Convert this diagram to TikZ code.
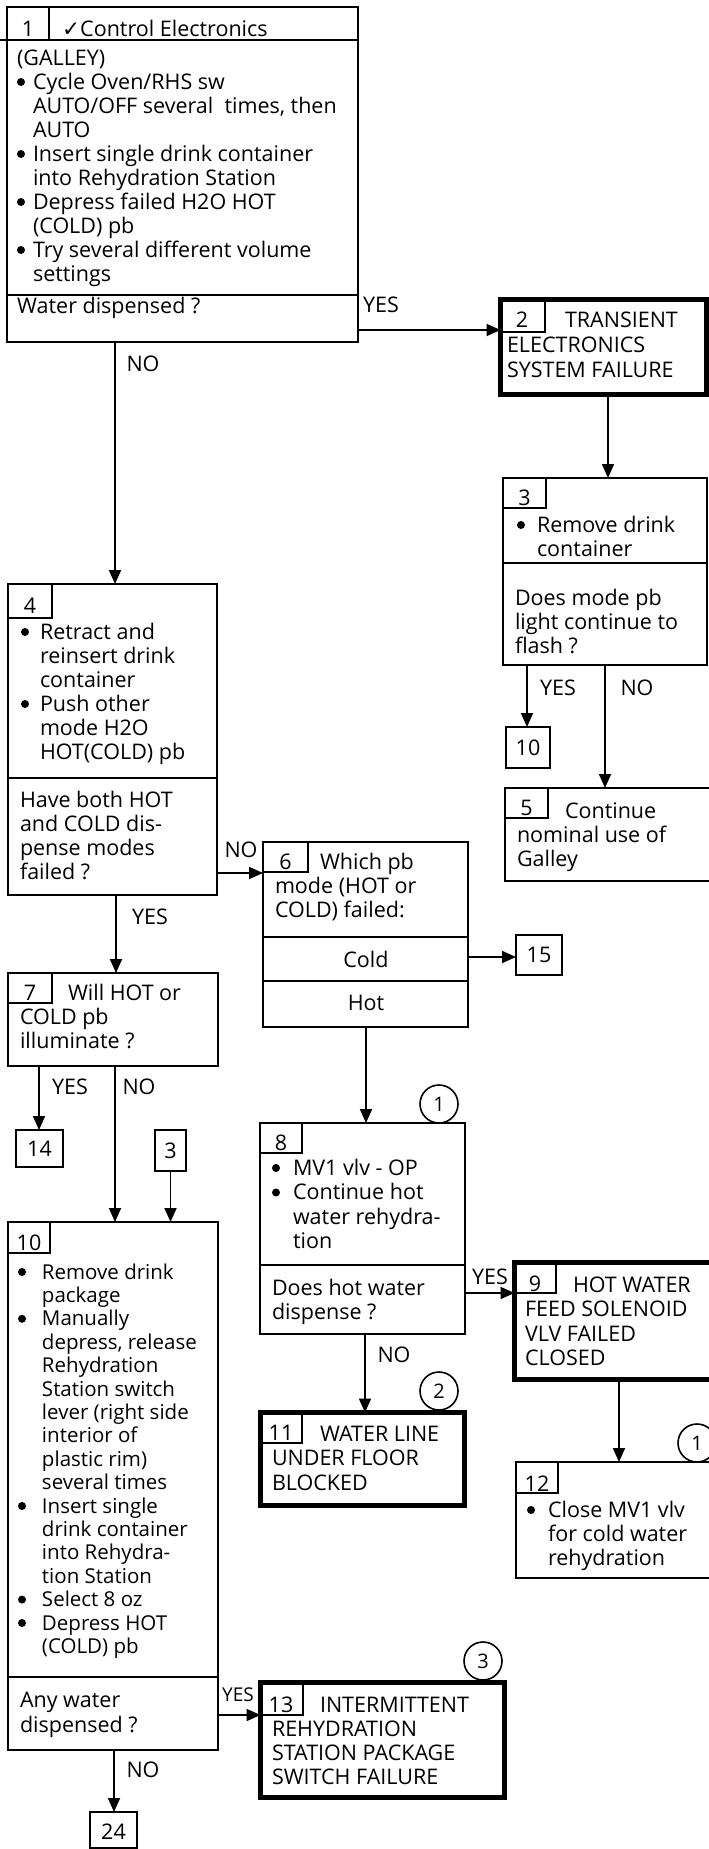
\documentclass[tikz,border=0pt]{standalone}
\usepackage{fontspec}
\setmainfont{Open Sans}
\newfontfamily\dv{DejaVu Sans}
\usetikzlibrary{arrows.meta}
\newcommand\fsb[1]{\fontsize{21.5}{#1}\selectfont}
\newcommand\bu[1]{\makebox[#1pt][l]{\tikz[baseline={(0pt,-7pt)}]\fill (4pt,0pt) circle[radius=4pt];}}
\newcommand\ind[1]{\hspace*{#1pt}}
\newcommand\cell[3]{\draw[ln] ([xshift=#2pt]#1.north west) |- ([yshift=-#3pt]#1.north west);}
\tikzset{
  box/.style={draw, rectangle, line width=1.8pt, inner sep=0pt, outer sep=0pt, anchor=north west},
  tbox/.style={box, line width=5pt},
  txt/.style={anchor=north west, inner sep=0pt, outer sep=0pt, align=left, font={\fsb{24}}},
  num/.style={anchor=base, inner sep=0pt, font={\fsb{24}}},
  ttl/.style={anchor=base west, inner sep=0pt, font={\fsb{24}}},
  lbl/.style={anchor=center, inner sep=0pt, font={\fsb{24}}},
  circ/.style={draw, circle, line width=1.6pt, minimum size=38pt, inner sep=0pt, font={\fontsize{20}{24}\selectfont}},
  arr/.style={line width=1.8pt, -{Triangle[length=14pt,width=12pt]}},
  ln/.style={line width=1.8pt}
}
\begin{document}
\begin{tikzpicture}[x=1pt,y=-1pt]
\useasboundingbox (0,0) rectangle (709,1849);
\clip (0,0) rectangle (709,1849);
\fill[white] (0,0) rectangle (709,1849);

% ---------- Box 1
\node[box, minimum width=351pt, minimum height=335pt] (b1) at (7,7) {};
\draw[ln] (b1.west |- 0,40) -- (b1.east |- 0,40);
\draw[ln] (49,7) -- (49,40);
\draw[ln] (b1.west |- 0,295) -- (b1.east |- 0,295);
\coordinate (stub) at (0,40);
\draw[ln] (stub) -- (b1.west |- stub);
\node[num] (n1) at (28,37) {1};
\node[ttl] (h1) at (62,37) {{\dv ✓}Control Electronics};
\node[txt] (t1) at (17,48.2) {\strut(GALLEY)\\
\bu{16}Cycle Oven/RHS sw\\
\ind{16}AUTO/OFF several\ \ times, then\\
\ind{16}AUTO\\
\bu{16}Insert single drink container\\
\ind{16}into Rehydration Station\\
\bu{16}Depress failed H2O HOT\\
\ind{16}(COLD) pb\\
\bu{16}Try several different volume\\
\ind{16}settings};
\node[ttl] (q1) at (17,313) {Water dispensed ?};

% ---------- Box 2
\node[tbox, minimum width=205.5pt, minimum height=95pt] (b2) at (500.5,299.5) {};
\cell{b2}{44.5}{32.5}
\node[num] (n2) at (522,327) {2};
\node[txt, font={\fsb{25}}] (t2) at (507,309.5) {\strut\hspace*{58pt}TRANSIENT\\ELECTRONICS\\SYSTEM FAILURE};

% ---------- Box 3
\node[box, minimum width=204pt, minimum height=187pt] (b3) at (503,478) {};
\cell{b3}{43}{30}
\draw[ln] (b3.west |- 0,563) -- (b3.east |- 0,563);
\node[num] (n3) at (524.5,505) {3};
\node[txt] (t3) at (517,515.2) {\strut\bu{20}Remove drink\\ \ind{20}container};
\node[txt] (q3) at (515,588.2) {\strut Does mode pb\\light continue to\\flash ?};

% ---------- Box 10 reference
\node[box, minimum width=44pt, minimum height=41pt] (r10) at (506,727) {};
\node[lbl] (r10t) at (r10.center) {10};

% ---------- Box 5
\node[box, minimum width=210pt, minimum height=93pt] (b5) at (505,788) {};
\cell{b5}{43}{30}
\node[num] (n5) at (526.5,815) {5};
\node[txt] (t5) at (517,801.2) {\strut\hspace*{48pt}Continue\\nominal use of\\Galley};

% ---------- Box 4
\node[box, minimum width=209pt, minimum height=311pt] (b4) at (8,584) {};
\cell{b4}{44}{34}
\draw[ln] (b4.west |- 0,778) -- (b4.east |- 0,778);
\node[num] (n4) at (30,613) {4};
\node[txt] (t4) at (21,622.2) {\strut\bu{19}Retract and\\
\ind{19}reinsert drink\\
\ind{19}container\\
\bu{19}Push other\\
\ind{19}mode H2O\\
\ind{19}HOT(COLD) pb};
\node[txt] (q4) at (20,790.2) {\strut Have both HOT\\and COLD dis-\\pense modes\\failed ?};

% ---------- Box 6
\node[box, minimum width=205pt, minimum height=185pt] (b6) at (263,842) {};
\cell{b6}{45}{30}
\draw[ln] (b6.west |- 0,937) -- (b6.east |- 0,937);
\draw[ln] (b6.west |- 0,981) -- (b6.east |- 0,981);
\node[num] (n6) at (285.5,869) {6};
\node[txt] (t6) at (275,852.2) {\strut\hspace*{45pt}Which pb\\mode (HOT or\\COLD) failed:};
\node[lbl] (cold) at (366,959) {Cold};
\node[lbl] (hot) at (366,1003) {Hot};

% ---------- Box 15 reference
\node[box, minimum width=46pt, minimum height=40pt] (r15) at (516,935) {};
\node[lbl] (r15t) at (r15.center) {15};

% ---------- Box 7
\node[box, minimum width=210pt, minimum height=93pt] (b7) at (8,973) {};
\cell{b7}{44}{30}
\node[num] (n7) at (30,1000) {7};
\node[txt] (t7) at (20,983.2) {\strut\hspace*{48pt}Will HOT or\\COLD pb\\illuminate ?};

% ---------- refs 14 and 3
\node[box, minimum width=47pt, minimum height=37pt] (r14) at (16,1130) {};
\node[lbl] (r14t) at (r14.center) {14};
\node[box, minimum width=31pt, minimum height=41pt] (r3) at (155,1130) {};
\node[lbl] (r3t) at (r3.center) {3};

% ---------- Box 8
\node[box, minimum width=205pt, minimum height=211pt] (b8) at (260,1123) {};
\cell{b8}{42}{30}
\draw[ln] (b8.west |- 0,1265) -- (b8.east |- 0,1265);
\node[num] (n8) at (281,1150) {8};
\node[txt, font={\fsb{24.5}}] (t8) at (272,1157.85) {\strut\bu{21}MV1 vlv - OP\\
\bu{21}Continue hot\\
\ind{21}water rehydra-\\
\ind{21}tion};
\node[txt] (q8) at (272,1278.2) {\strut Does hot water\\dispense ?};
\node[circ] (c1a) at (439,1104) {1};

% ---------- Box 9
\node[tbox, minimum width=200pt, minimum height=117pt] (b9) at (514.5,1262.5) {};
\cell{b9}{41.5}{30.5}
\node[num] (n9) at (535,1291) {9};
\node[txt, font={\fsb{24.5}}] (t9) at (525,1274.85) {\strut\hspace*{48pt}HOT WATER\\FEED SOLENOID\\VLV FAILED\\CLOSED};

% ---------- Box 11
\node[tbox, minimum width=204pt, minimum height=93pt] (b11) at (260.5,1412.5) {};
\cell{b11}{41.5}{30.5}
\node[num] (n11) at (281,1440) {11};
\node[txt, font={\fsb{24.5}}] (t11) at (272,1423.85) {\strut\hspace*{48pt}WATER LINE\\UNDER FLOOR\\BLOCKED};
\node[circ] (c2) at (439,1391) {2};

% ---------- Box 12
\node[box, minimum width=200pt, minimum height=116pt] (b12) at (516,1462) {};
\cell{b12}{42}{31}
\node[num] (n12) at (537,1491) {12};
\node[txt] (t12) at (527,1500.2) {\strut\bu{21}Close MV1 vlv\\
\ind{21}for cold water\\
\ind{21}rehydration};
\node[circ] (c1b) at (697,1443) {1};

% ---------- Box 10
\node[box, minimum width=210pt, minimum height=528pt] (b10) at (8,1222) {};
\cell{b10}{42}{31}
\draw[ln] (b10.west |- 0,1677) -- (b10.east |- 0,1677);
\node[num] (n10) at (29,1250) {10};
\node[txt, font={\fontsize{20.5}{23.4}\selectfont}] (t10) at (18,1262.6) {\strut\bu{24}Remove drink\\
\ind{24}package\\
\bu{24}Manually\\
\ind{24}depress, release\\
\ind{24}Rehydration\\
\ind{24}Station switch\\
\ind{24}lever (right side\\
\ind{24}interior of\\
\ind{24}plastic rim)\\
\ind{24}several times\\
\bu{24}Insert single\\
\ind{24}drink container\\
\ind{24}into Rehydra-\\
\ind{24}tion Station\\
\bu{24}Select 8 oz\\
\bu{24}Depress HOT\\
\ind{24}(COLD) pb};
\node[txt, font={\fsb{25}}] (q10) at (20,1689.5) {\strut Any water\\dispensed ?};

% ---------- Box 13
\node[tbox, minimum width=244pt, minimum height=115pt] (b13) at (260.5,1682.5) {};
\cell{b13}{42.5}{32.5}
\node[num] (n13) at (281,1712) {13};
\node[txt] (t13) at (272,1695.2) {\strut\hspace*{48pt}INTERMITTENT\\REHYDRATION\\STATION PACKAGE\\SWITCH FAILURE};
\node[circ] (c3) at (483,1661) {3};

% ---------- Box 24 reference
\node[box, minimum width=47pt, minimum height=36pt] (r24) at (90,1812) {};
\node[lbl] (r24t) at (113.5,1832) {24};

% ---------- connectors
\draw[arr] (b1.east |- 0,330) -- (b2.west |- 0,330);
\draw[arr] (b1.south -| 115,0) -- (b4.north -| 115,0);
\draw[arr] (b2.south -| 608,0) -- (b3.north -| 608,0);
\draw[arr] (b3.south -| 527,0) -- (r10.north -| 527,0);
\draw[arr] (b3.south -| 605,0) -- (b5.north -| 605,0);
\draw[arr] (b4.east |- 0,873) -- (b6.west |- 0,873);
\draw[arr] (b4.south -| 116,0) -- (b7.north -| 116,0);
\draw[arr] (b6.east |- 0,957) -- (r15.west |- 0,957);
\draw[arr] (b6.south -| 366,0) -- (b8.north -| 366,0);
\draw[arr] (b7.south -| 39,0) -- (r14.north -| 39,0);
\draw[arr] (b7.south -| 115,0) -- (b10.north -| 115,0);
\draw[arr] (r3.south) -- (b10.north -| r3.south);
\draw[arr] (b8.east |- 0,1293) -- (b9.west |- 0,1293);
\draw[arr] (b8.south -| 365,0) -- (b11.north -| 365,0);
\draw[arr] (b9.south -| 619,0) -- (b12.north -| 619,0);
\draw[arr] (b10.east |- 0,1715) -- (b13.west |- 0,1715);
\draw[arr] (b10.south -| 114,0) -- (r24.north -| 114,0);

% ---------- labels
\node[lbl] (y1) at (381,305) {YES};
\node[lbl] (no1) at (143,364) {NO};
\node[lbl] (y3) at (558,688) {YES};
\node[lbl] (no3) at (637,688) {NO};
\node[lbl] (no4) at (241,850) {NO};
\node[lbl] (y4) at (150,917) {YES};
\node[lbl] (y7) at (70,1087) {YES};
\node[lbl] (no7) at (139,1087) {NO};
\node[lbl] (y8) at (490,1277) {YES};
\node[lbl] (no8) at (394,1355) {NO};
\node[lbl, font={\fontsize{19}{24}\selectfont}] (y10) at (238,1695) {YES};
\node[lbl] (no10) at (143,1770) {NO};
\end{tikzpicture}
\end{document}
